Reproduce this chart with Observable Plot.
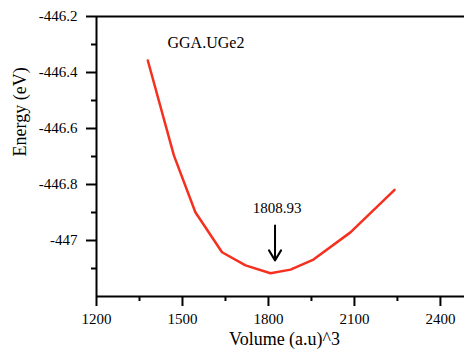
<!DOCTYPE html>
<html>
<head>
<meta charset="utf-8">
<script src="https://cdn.jsdelivr.net/npm/d3@7"></script>
<script src="https://cdn.jsdelivr.net/npm/@observablehq/plot@0.6"></script>
<style>
  html, body { margin: 0; padding: 0; background: #fff; }
  #chart svg { display: block; }
  #chart svg, #chart svg text { font-family: "Liberation Serif", "Times New Roman", serif !important; }
</style>
</head>
<body>
<div id="chart"></div>
<script>
// Energy–volume curve for UGe2 (GGA)
const volume = [1379, 1470, 1545, 1638, 1720, 1807, 1877, 1957, 2086, 2240];
const energy = [-446.357, -446.696, -446.899, -447.042, -447.089, -447.117, -447.104, -447.068, -446.971, -446.819];

const xMajorTicks = [1200, 1500, 1800, 2100, 2400];
const xMinorTicks = [1350, 1650, 1950, 2250];
const yMajorTicks = [-446.2, -446.4, -446.6, -446.8, -447];
const yMinorTicks = [-446.3, -446.5, -446.7, -446.9, -447.1];

const seriesLabel = "GGA.UGe2";
const minVolume = 1808.93;
const xLabel = "Volume (a.u)^3";
const yLabel = "Energy (eV)";

const points = volume.map((v, i) => ({volume: v, energy: energy[i]}));

const serif = "'Liberation Serif', 'Times New Roman', serif";
const xMin = 1200, xMax = 2484, yMin = -447.2, yMax = -446.2;

// outward tick marks as short rules hanging off the axis lines
const xTicks = (values, len) =>
  Plot.ruleX(values, {x: d => d, y1: yMin, y2: yMin, insetTop: 0, insetBottom: -len, stroke: "#000", strokeWidth: 2});
const yTicks = (values, len) =>
  Plot.ruleY(values, {y: d => d, x1: xMin, x2: xMin, insetLeft: -len, insetRight: 0, stroke: "#000", strokeWidth: 2});

const chart = Plot.plot({
  width: 464,
  height: 351,
  marginLeft: 96,
  marginRight: 0,
  marginTop: 16,
  marginBottom: 55,
  style: {fontFamily: serif, color: "#000", background: "#fff"},
  x: {domain: [xMin, xMax]},
  y: {domain: [yMin, yMax]},
  marks: [
    // frame lines
    Plot.ruleX([xMin], {stroke: "#000", strokeWidth: 2}),
    Plot.ruleY([yMin], {stroke: "#000", strokeWidth: 2}),
    Plot.ruleY([yMax], {stroke: "#000", strokeWidth: 2}),
    // ticks
    xTicks(xMajorTicks, 10),
    xTicks(xMinorTicks, 5),
    yTicks(yMajorTicks, 10),
    yTicks(yMinorTicks, 5),
    // tick labels
    Plot.axisX(xMajorTicks, {tickSize: 0, tickPadding: 17, fill: "#000", fontSize: 15, fontFamily: serif, tickFormat: d => String(d), label: null}),
    Plot.axisY(yMajorTicks, {tickSize: 0, tickPadding: 19, fill: "#000", fontSize: 15, fontFamily: serif, tickFormat: d => String(d), label: null}),
    // curve
    Plot.line(points, {x: "volume", y: "energy", stroke: "#f5301f", strokeWidth: 2.5}),
    // minimum annotation
    Plot.text([minVolume], {x: d => d, y: -446.9, text: d => d.toFixed(2), fill: "#000", fontSize: 15, fontFamily: serif, lineAnchor: "bottom", dx: 6}),
    Plot.arrow([minVolume], {x1: d => d, x2: d => d, y1: -446.946, y2: -447.071, stroke: "#000", strokeWidth: 2, headLength: 11, headAngle: 62, dx: 4}),
    // series label
    Plot.text([seriesLabel], {frameAnchor: "top-left", textAnchor: "start", lineAnchor: "bottom", dx: 71, dy: 31, fill: "#000", fontSize: 16, fontFamily: serif}),
    // axis titles
    Plot.text([xLabel], {frameAnchor: "bottom", lineAnchor: "bottom", dx: 4, dy: 48, fill: "#000", fontSize: 18, fontFamily: serif}),
    Plot.text([yLabel], {frameAnchor: "left", rotate: -90, lineAnchor: "bottom", dx: -71, fill: "#000", fontSize: 18, fontFamily: serif})
  ]
});

document.getElementById("chart").appendChild(chart);
</script>
</body>
</html>
